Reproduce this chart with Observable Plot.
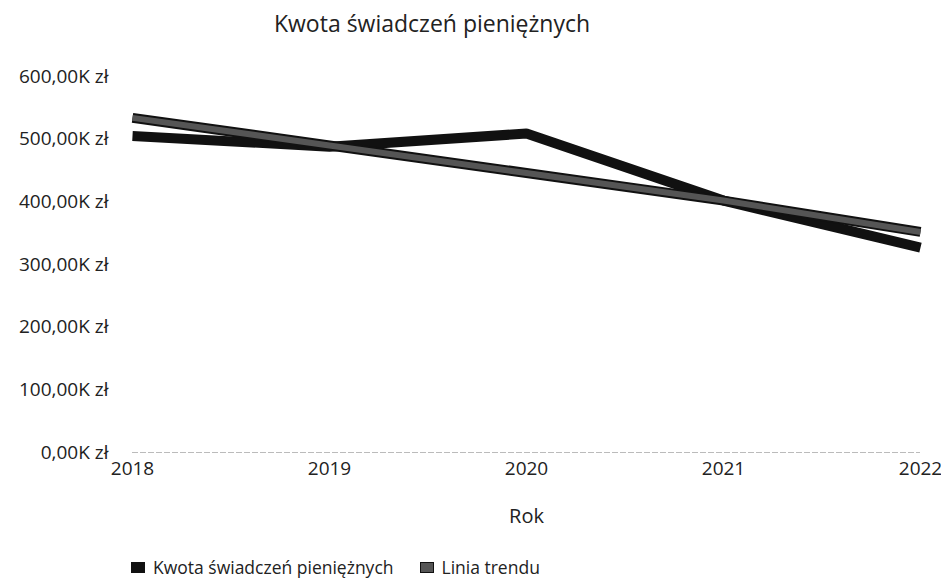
<!DOCTYPE html>
<html>
<head>
<meta charset="utf-8">
<script src="https://cdn.jsdelivr.net/npm/d3@7"></script>
<script src="https://cdn.jsdelivr.net/npm/@observablehq/plot@0.6"></script>
<style>
  body { margin: 0; background: #fff; font-family: "Open Sans", "Noto Sans", sans-serif; color: #222; }
  #wrap { position: relative; width: 941px; height: 586px; }
  #title { position: absolute; top: 7px; left: 0; width: 864px; text-align: center; font-size: 23px; color: #222; }
  #chart { position: absolute; top: 50px; left: 0; }
  #legend { position: absolute; top: 555px; left: 131px; font-size: 17.5px; display: flex; align-items: center; color: #222; }
  .sw { display: inline-block; width: 14px; height: 11px; margin-right: 8px; box-sizing: border-box; }
</style>
</head>
<body>
<div id="wrap">
  <div id="title">Kwota świadczeń pieniężnych</div>
  <div id="chart"></div>
  <div id="legend"></div>
</div>
<script>
const years = [2018, 2019, 2020, 2021, 2022];
const amounts = [505000, 488000, 509000, 402000, 327000];
const trend = [534000, 490000, 446000, 402000, 352000];
const yTicks = [0, 100000, 200000, 300000, 400000, 500000, 600000];
const seriesNames = ["Kwota świadczeń pieniężnych", "Linia trendu"];
const seriesColors = ["#111111", "#555555"];

const rows = years.map((y, i) => ({year: y, amount: amounts[i], trend: trend[i]}));
const fmt = d => (d / 1000).toFixed(2).replace(".", ",") + "K zł";

const plot = Plot.plot({
  width: 941,
  height: 490,
  marginTop: 26,
  marginBottom: 88,
  marginLeft: 132,
  marginRight: 21,
  style: {fontFamily: "Open Sans, Noto Sans, sans-serif", fontSize: "16px", color: "#222", background: "transparent"},
  x: {domain: [2018, 2022], ticks: years, tickFormat: d => String(d), label: null},
  y: {domain: [0, 600000], ticks: yTicks, tickFormat: fmt, label: null},
  marks: [
    Plot.ruleY([0], {stroke: "#bbb", strokeWidth: 1, strokeDasharray: "6,2"}),
    Plot.axisY({ticks: yTicks, tickFormat: fmt, tickSize: 0, tickPadding: 24, fontSize: 19, label: null}),
    Plot.axisX({ticks: years, tickFormat: d => String(d), tickSize: 0, tickPadding: 9, fontSize: 19, label: null}),
    Plot.text(["Rok"], {frameAnchor: "bottom", dy: 70, fontSize: 20, fill: "#222"}),
    Plot.line(rows, {x: "year", y: "amount", stroke: seriesColors[0], strokeWidth: 10, strokeLinecap: "butt", strokeLinejoin: "miter"}),
    Plot.line(rows, {x: "year", y: "trend", stroke: "#111", strokeWidth: 10, strokeLinecap: "butt"}),
    Plot.line(rows, {x: "year", y: "trend", stroke: seriesColors[1], strokeWidth: 6, strokeLinecap: "butt"})
  ]
});
document.getElementById("chart").appendChild(plot);

const legend = document.getElementById("legend");
seriesNames.forEach((n, i) => {
  const item = document.createElement("span");
  item.style.display = "inline-flex";
  item.style.alignItems = "center";
  item.style.marginRight = i === 0 ? "26px" : "0";
  const sw = document.createElement("span");
  sw.className = "sw";
  sw.style.background = seriesColors[i];
  sw.style.border = "1.5px solid #111";
  item.appendChild(sw);
  item.appendChild(document.createTextNode(n));
  legend.appendChild(item);
});
</script>
</body>
</html>
